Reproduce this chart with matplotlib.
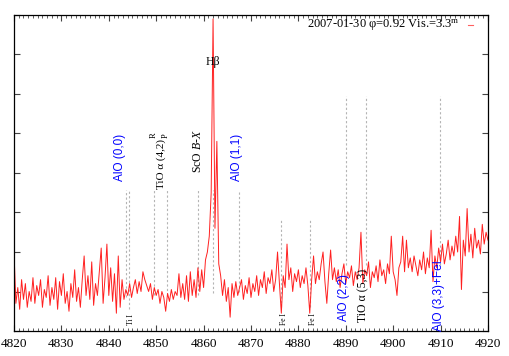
import numpy as np
import matplotlib
matplotlib.use("Agg")
import matplotlib.pyplot as plt
from matplotlib.ticker import MultipleLocator, NullFormatter

plt.rcParams['font.family'] = ['Liberation Serif', 'DejaVu Serif']
plt.rcParams['mathtext.fontset'] = 'custom'
plt.rcParams['mathtext.rm'] = 'Liberation Serif'
plt.rcParams['mathtext.it'] = 'Liberation Serif:italic'

# spectrum sampled every 0.4 A from 4820 A
wl_start = 4820.0
wl_step = 0.4
flux = [
    2.0, 0.7, 1.1, 0.55, 1.3, 0.8, 1.2, 0.6, 1.0, 0.75,
    1.35, 0.7, 1.15, 0.9, 1.3, 0.6, 1.05, 0.85, 1.4, 0.65,
    1.1, 0.8, 1.35, 0.55, 1.25, 0.9, 1.45, 0.7, 1.0, 0.5,
    1.2, 0.85, 1.55, 0.75, 1.1, 0.6, 1.3, 1.9, 0.9, 1.4,
    0.8, 1.75, 0.65, 1.2, 0.9, 1.5, 2.1, 0.7, 1.35, 2.2,
    0.9, 1.6, 0.75, 1.45, 0.45, 1.9, 0.6, 1.3, 0.8, 1.05,
    0.9, 1.2, 0.85, 1.1, 1.3, 0.95, 1.25, 1.0, 1.5, 1.3,
    1.15, 1.0, 1.2, 0.8, 1.1, 0.9, 1.05, 0.7, 1.0, 0.85,
    0.5, 0.95, 0.75, 1.05, 0.8, 1.0, 0.9, 1.45, 0.85, 1.2,
    0.8, 1.4, 0.75, 1.5, 0.9, 1.3, 0.85, 1.6, 1.0, 1.55,
    1.1, 1.8, 2.0, 2.4, 3.5, 7.9, 2.6, 4.8, 1.7, 1.4,
    0.9, 1.3, 0.75, 1.1, 0.35, 1.2, 0.85, 1.25, 0.9, 1.1,
    1.3, 0.8, 1.15, 0.95, 1.35, 0.85, 1.2, 1.0, 1.4, 0.9,
    1.3, 1.1, 1.5, 0.95, 1.35, 1.2, 1.55, 1.0, 1.3, 2.0,
    1.2, 0.45, 1.4, 1.1, 2.2, 1.3, 1.6, 1.0, 1.45, 1.25,
    1.55, 1.1, 1.4, 1.2, 1.6, 1.15, 0.45, 1.3, 1.9, 1.2,
    1.5, 1.3, 1.7, 2.0, 1.25, 0.7, 1.45, 2.05, 1.3, 1.6,
    1.25, 1.55, 1.1, 1.45, 1.7, 1.2, 1.5, 1.35, 1.65, 1.15,
    1.5, 1.3, 1.6, 2.5, 1.2, 1.55, 1.4, 1.75, 1.1, 1.5,
    1.35, 1.65, 1.25, 1.8, 1.4, 1.55, 1.2, 1.7, 1.45, 2.4,
    1.5, 1.3, 0.9, 1.6, 1.75, 2.4, 1.5, 2.3, 1.6, 1.85,
    1.5, 1.9, 1.65, 1.4, 1.8, 1.55, 2.0, 1.45, 1.85, 1.6,
    2.55, 1.25, 1.9, 1.6, 2.1, 1.75, 2.2, 1.7, 1.95, 2.3,
    1.8, 2.15, 1.9, 2.4, 2.0, 2.9, 1.05, 2.3, 1.9, 3.1,
    2.0, 2.45, 1.85, 2.6, 2.1, 2.3, 1.95, 2.7, 2.2, 2.5, 2.3,
]
wavelength = wl_start + wl_step * np.arange(len(flux))

# marker lines: wavelength, bottom, top
line_wl = [4843.6, 4844.3, 4849.6, 4852.3, 4858.9, 4861.9, 4867.4,
           4876.4, 4882.5, 4890.0, 4894.2, 4909.9]
line_lo = [0.86, 0.55, 0.9, 0.9, 0.9, 0.95, 1.0, 0.6, 0.6, 1.67, 1.67, 1.67]
line_hi = [3.56, 3.56, 3.56, 3.56, 3.56, 3.56, 3.56, 2.8, 2.8, 5.96, 5.96, 5.96]

# line identifications: text, x, y, colour, size, rotation, family
labels = [
    ("AlO (0,0)", 4842.4, 4.4, "blue", 8.5, 90, "Liberation Sans"),
    ("TiO \u03b1 (4,2)", 4851.0, 4.23, "black", 8, 90, "Liberation Serif"),
    ("R", 4849.5, 4.95, "black", 6, 90, "Liberation Serif"),
    ("P", 4852.1, 4.95, "black", 6, 90, "Liberation Serif"),
    ("ScO $B$-$X$", 4858.8, 4.55, "black", 8.5, 90, "Liberation Serif"),
    ("H\u03b2", 4862.0, 6.8, "black", 8.5, 0, "Liberation Serif"),
    ("AlO (1,1)", 4867.0, 4.4, "blue", 8.5, 90, "Liberation Sans"),
    ("Ti I", 4844.6, 0.3, "black", 5.5, 90, "Liberation Serif"),
    ("Fe I", 4877.0, 0.3, "black", 5.5, 90, "Liberation Serif"),
    ("Fe I", 4883.1, 0.3, "black", 5.5, 90, "Liberation Serif"),
    ("AlO (2,2)", 4889.6, 0.85, "blue", 8.5, 90, "Liberation Sans"),
    ("TiO \u03b1 (5,3)", 4893.6, 0.9, "black", 8.5, 90, "Liberation Serif"),
    ("AlO (3,3)+FeI", 4909.7, 0.9, "blue", 8.5, 90, "Liberation Sans"),
]

fig = plt.figure(figsize=(5.09, 3.56), dpi=100)
ax = fig.add_axes([0.0275, 0.0702, 0.9312, 0.8878])

for w, lo, hi in zip(line_wl, line_lo, line_hi):
    ax.vlines(w, lo, hi, colors="#b4b4b4", linestyles=(0, (2, 2)), linewidth=0.8)

ax.plot(wavelength, flux, color="#ff2020", linewidth=0.7)

for txt, x, y, c, s, r, fam in labels:
    ax.text(x, y, txt, color=c, fontsize=s, rotation=r, ha="center", va="center",
            family=fam)

ax.text(0.941, 0.968, "2007-01-30 \u03c6=0.92 Vis.=3.3$^{\\rm m}$", transform=ax.transAxes,
        ha="right", va="center", fontsize=9)
ax.plot([0.958, 0.969], [0.968, 0.968], transform=ax.transAxes, color="#ff6060",
        linewidth=0.8)

ax.set_xlim(4820, 4920)
ax.set_ylim(0, 8)
ax.xaxis.set_major_locator(MultipleLocator(10))
ax.xaxis.set_minor_locator(MultipleLocator(1))
ax.yaxis.set_major_locator(MultipleLocator(1))
ax.yaxis.set_major_formatter(NullFormatter())
ax.tick_params(which="both", direction="in", top=True, right=True, labelsize=9.5,
               color="#444444", pad=5)
ax.tick_params(which="major", length=4, width=0.8)
ax.tick_params(which="minor", length=2, width=0.6)
for sp in ax.spines.values():
    sp.set_linewidth(0.9)

fig.savefig("out.png", dpi=100)
